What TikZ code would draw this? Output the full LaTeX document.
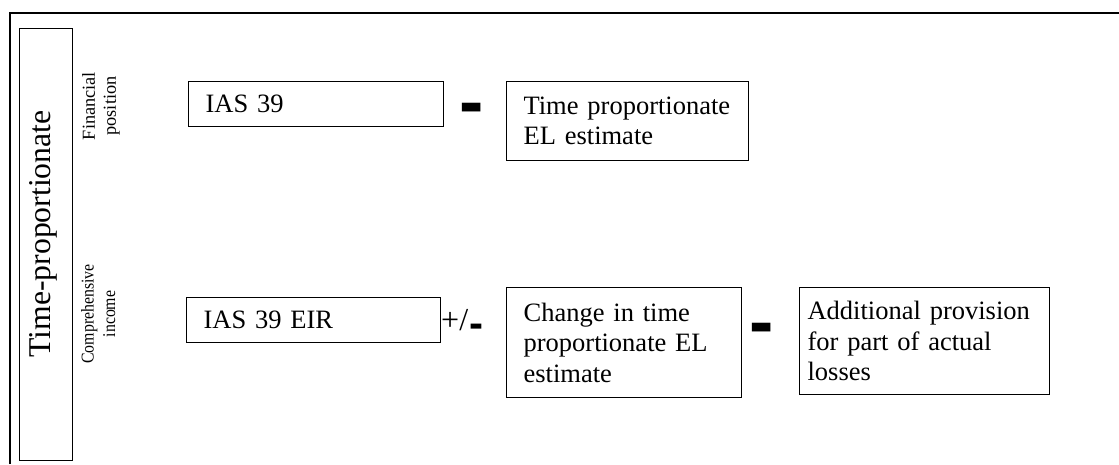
\documentclass[tikz,border=0pt]{standalone}
\usepackage{fontspec}
\setmainfont{Liberation Serif}
\newfontfamily\barfont{Liberation Sans}
\begin{document}
\begin{tikzpicture}[x=1pt,y=-1pt,
  frame/.style={line width=2pt},
  box/.style={draw, line width=1.2pt, anchor=north west, align=left, inner ysep=0pt,
    font=\fontsize{26.5}{30.5}\selectfont},
  side/.style={rotate=90, align=center, inner sep=0pt},
  bigbar/.style={anchor=base, inner sep=0pt, font=\barfont\bfseries\fontsize{73}{73}\selectfont}]
\useasboundingbox (0,0) rectangle (1119,464);
% outer frame (top and left)
\draw[frame] (10,464) -- (10,13) -- (1119,13);
% left column
\node[draw, line width=1.2pt, anchor=north west, inner sep=0pt,
      minimum width=53pt, minimum height=432pt] (col) at (19,28) {};
\node[rotate=90, inner sep=0pt, font=\fontsize{31.7}{34}\selectfont] (title) at (43,234)
  {Time-proportionate};
% row labels
\node[side, font=\fontsize{18.3}{21}\selectfont] (fp) at (101,106) {Financial\\position};
\node[side, font=\fontsize{18}{21.5}\selectfont] (ci) at (100,314)
  {\scalebox{0.88}[1]{\begin{tabular}{@{}c@{}}Comprehensive\\income\end{tabular}}};
% first row
\node[box, minimum width=255pt, minimum height=45pt, text width=221pt, inner xsep=17pt] (ias) at (188,81) {IAS 39};
\node[bigbar] (m1) at (472,126.5) {-};
\node[box, minimum width=242pt, minimum height=79pt, text width=208pt, inner xsep=17pt] (tpel) at (506,81) {Time proportionate\\EL estimate};
% second row
\node[box, minimum width=254pt, minimum height=45pt, text width=220pt, inner xsep=17pt] (eir) at (186,297) {IAS 39 EIR};
\node[anchor=base west, inner sep=0pt, font=\fontsize{32}{34}\selectfont] (pm) at (441,330.5)
  {+/\kern1pt\raisebox{-7pt}{\barfont\bfseries\fontsize{42}{42}\selectfont -}};
\node[box, minimum width=235pt, minimum height=110pt, text width=201pt, inner xsep=17pt] (chg) at (506,287) {Change in time\\proportionate EL\\estimate};
\node[bigbar] (m2) at (761.5,346.5) {-};
\node[box, minimum width=250pt, minimum height=107pt, text width=234pt, inner xsep=8pt] (add) at (799,287) {Additional provision\\for part of actual\\losses};
\end{tikzpicture}
\end{document}
